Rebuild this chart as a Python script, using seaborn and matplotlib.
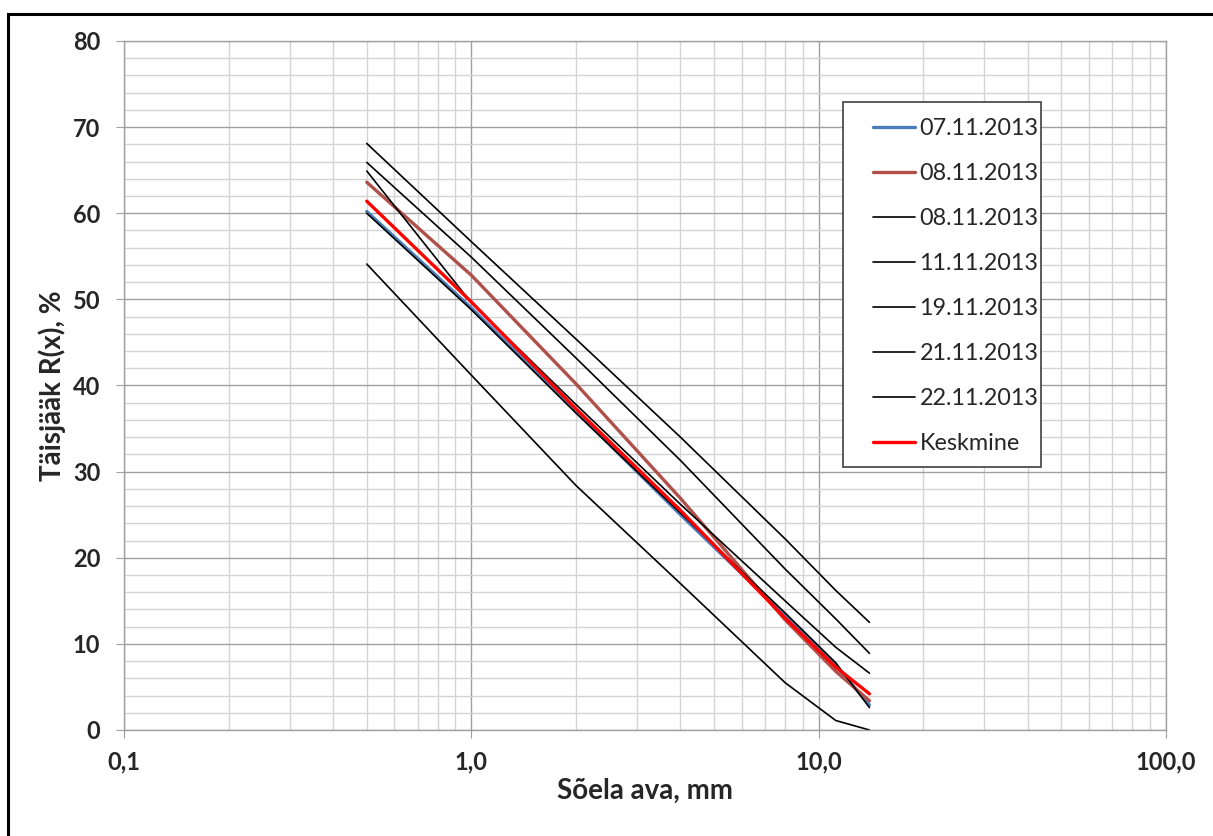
import numpy as np
import pandas as pd
import seaborn as sns
import matplotlib.pyplot as plt
from matplotlib.patches import Rectangle
from matplotlib.ticker import FixedLocator, FixedFormatter, MultipleLocator, NullFormatter

# sieve openings (mm)
sieve = [0.5, 1.0, 2.0, 4.0, 8.0, 11.2, 14.0]

# cumulative residue R(x), %
r_0711 = [60.2, 49.0, 37.0, 25.0, 13.3, 7.5, 2.9]
r_0811a = [63.6, 52.8, 40.2, 26.9, 12.8, 6.8, 3.4]
r_0811b = [68.1, 56.7, 45.4, 34.0, 22.2, 16.2, 12.5]
r_1111 = [65.9, 54.9, 43.2, 31.3, 18.7, 12.9, 8.9]
r_1911 = [64.9, 49.6, 37.8, 26.2, 15.0, 9.6, 6.6]
r_2111 = [60.0, 48.8, 36.8, 25.2, 13.6, 7.8, 2.6]
r_2211 = [54.1, 41.2, 28.4, 17.0, 5.5, 1.1, 0.0]
r_mean = [61.4, 49.7, 37.3, 25.5, 13.0, 7.3, 4.2]

series = [
    ("07.11.2013", r_0711, "#4A7EBB", 2.4),
    ("08.11.2013", r_0811a, "#B0504B", 2.4),
    ("08.11.2013", r_0811b, "black", 1.2),
    ("11.11.2013", r_1111, "black", 1.2),
    ("19.11.2013", r_1911, "black", 1.2),
    ("21.11.2013", r_2111, "black", 1.2),
    ("22.11.2013", r_2211, "black", 1.2),
    ("Keskmine", r_mean, "#FF0000", 2.4),
]

sns.set_style("white")
plt.rcParams['font.family'] = ['Lato', 'DejaVu Sans']

W, H = 1213, 836
fig = plt.figure(figsize=(12.13, 8.36), dpi=100)
ax = fig.add_axes([0.1022, 0.1268, 0.8591, 0.8242])

for name, vals, col, lw in series:
    df = pd.DataFrame({'ava': sieve, 'R': vals})
    sns.lineplot(data=df, x='ava', y='R', ax=ax, color=col, linewidth=lw,
                 label=name, estimator=None, sort=False)

ax.set_xscale('log')
ax.set_xlim(0.1, 100)
ax.set_ylim(0, 80)

ax.xaxis.set_major_locator(FixedLocator([0.1, 1, 10, 100]))
ax.xaxis.set_major_formatter(FixedFormatter(["0,1", "1,0", "10,0", "100,0"]))
minor_x = [m * d for d in [0.1, 1, 10] for m in range(2, 10)]
ax.xaxis.set_minor_locator(FixedLocator(minor_x))
ax.xaxis.set_minor_formatter(NullFormatter())
ax.yaxis.set_major_locator(MultipleLocator(10))
ax.yaxis.set_minor_locator(MultipleLocator(2))

ax.grid(which='minor', color='#D4D4D4', linewidth=1.0)
ax.grid(which='major', color='#A0A0A0', linewidth=1.0)
ax.set_axisbelow(True)

for s in ax.spines.values():
    s.set_color('#A0A0A0')
    s.set_linewidth(1.0)

ax.tick_params(axis='both', which='major', direction='out', length=6,
               color='#A0A0A0', labelsize=17)
ax.tick_params(axis='x', which='major', pad=9, bottom=True)
ax.tick_params(axis='y', which='major', pad=11, left=True)
ax.tick_params(which='minor', length=0)
for lab in ax.get_xticklabels() + ax.get_yticklabels():
    lab.set_fontweight('bold')

ax.set_xlabel("Sõela ava, mm", fontsize=20, fontweight='bold', labelpad=3)
ax.set_ylabel("Täisjääk R(x), %", fontsize=20, fontweight='bold', labelpad=5)

# legend box like Excel: text almost touching the right edge
box = Rectangle((843 / W, 1 - 467 / H), (1041 - 843) / W, (467 - 102) / H,
                transform=fig.transFigure, facecolor='white', edgecolor='#404040',
                linewidth=1.2, zorder=4, clip_on=False)
ax.add_patch(box)

leg = ax.legend(loc='upper left', bbox_to_anchor=(873 / W, 1 - 118 / H),
                bbox_transform=fig.transFigure, fontsize=16.8, frameon=False,
                handlelength=1.82, handletextpad=0.17, labelspacing=1.03,
                borderpad=0, borderaxespad=0)
leg.set_zorder(5)

# outer chart border
fig.patches.append(Rectangle((8 / W, -0.1), 1.2, 1.1 - 14 / H,
                             transform=fig.transFigure, fill=False,
                             edgecolor='black', linewidth=2.2, clip_on=False))

fig.savefig("out.png", dpi=100)
